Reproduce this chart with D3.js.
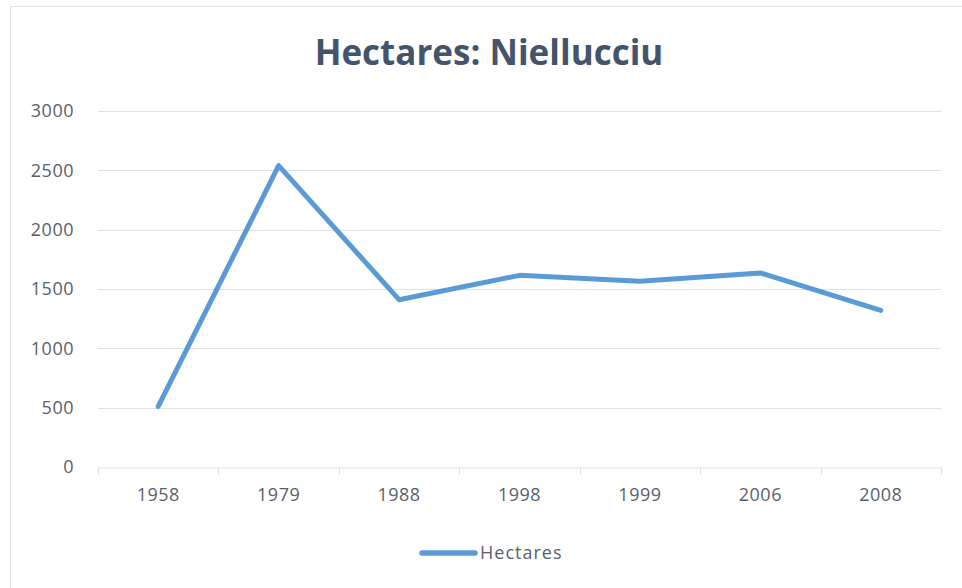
<!DOCTYPE html>
<html>
<head>
<meta charset="utf-8">
<script src="https://cdn.jsdelivr.net/npm/d3@7"></script>
<style>
  body { margin: 0; background: #fff; }
  text { font-family: "Open Sans", "Liberation Sans", sans-serif; }
</style>
</head>
<body>
<div id="chart"></div>
<script>
var years = ["1958", "1979", "1988", "1998", "1999", "2006", "2008"];
var hectares = [510, 2540, 1410, 1615, 1565, 1635, 1320];
var yTicks = [0, 500, 1000, 1500, 2000, 2500, 3000];
var seriesName = "Hectares";
var titleText = "Hectares: Niellucciu";

var width = 962, height = 588;
var margin = {top: 111, right: 21, bottom: 121, left: 98};
var textColor = "#595f6b";
var gridColor = "#dde1e7";

var svg = d3.select("#chart").append("svg")
    .attr("width", width)
    .attr("height", height);

// chart frame
svg.append("rect")
    .attr("x", 10.5).attr("y", 6.5)
    .attr("width", width).attr("height", height)
    .attr("fill", "#fff")
    .attr("stroke", gridColor);

var x = d3.scaleBand()
    .domain(years)
    .range([margin.left, width - margin.right]);

var y = d3.scaleLinear()
    .domain([0, 3000])
    .range([height - margin.bottom, margin.top]);

// gridlines
svg.append("g")
    .selectAll("line")
    .data(yTicks.filter(function(d) { return d > 0; }))
    .enter().append("line")
    .attr("x1", margin.left)
    .attr("x2", width - margin.right)
    .attr("y1", function(d) { return Math.round(y(d)) + 0.5; })
    .attr("y2", function(d) { return Math.round(y(d)) + 0.5; })
    .attr("stroke", gridColor)
    .attr("stroke-width", 1);

// y labels
svg.append("g")
    .selectAll("text")
    .data(yTicks)
    .enter().append("text")
    .attr("x", 74)
    .attr("y", function(d) { return y(d); })
    .attr("dy", "0.35em")
    .attr("text-anchor", "end")
    .attr("fill", textColor)
    .attr("font-size", "18px")
    .attr("letter-spacing", "0.5px")
    .text(function(d) { return d; });

// x axis
var xAxis = svg.append("g")
    .attr("transform", "translate(0," + (Math.round(y(0)) + 0.5) + ")")
    .call(d3.axisBottom(x).tickSize(0).tickPadding(21));
xAxis.select(".domain").attr("stroke", gridColor);
xAxis.selectAll("text")
    .attr("fill", textColor)
    .attr("font-size", "18px")
    .attr("letter-spacing", "0.5px")
    .attr("font-family", "'Open Sans', 'Liberation Sans', sans-serif");

var bounds = years.map(function(d) { return x(d); }).concat([x.range()[1]]);
xAxis.selectAll(".sep")
    .data(bounds)
    .enter().append("line")
    .attr("class", "sep")
    .attr("x1", function(d) { return Math.round(d) + 0.5; })
    .attr("x2", function(d) { return Math.round(d) + 0.5; })
    .attr("y1", 0).attr("y2", 7)
    .attr("stroke", gridColor);

// line
var line = d3.line()
    .x(function(d, i) { return x(years[i]) + x.bandwidth() / 2; })
    .y(function(d) { return y(d); });

svg.append("path")
    .datum(hectares)
    .attr("d", line)
    .attr("fill", "none")
    .attr("stroke", "#5b9bd5")
    .attr("stroke-width", 5)
    .attr("stroke-linejoin", "round")
    .attr("stroke-linecap", "round");

// title
svg.append("text")
    .attr("x", 489)
    .attr("y", 65)
    .attr("text-anchor", "middle")
    .attr("fill", "#44546a")
    .attr("font-size", "35px")
    .attr("font-weight", "bold")
    .text(titleText);

// legend
var legend = svg.append("g").attr("transform", "translate(422,553)");
legend.append("line")
    .attr("x1", 0).attr("x2", 53)
    .attr("y1", 0).attr("y2", 0)
    .attr("stroke", "#5b9bd5")
    .attr("stroke-width", 5.5)
    .attr("stroke-linecap", "round");
legend.append("text")
    .attr("x", 58)
    .attr("y", 0)
    .attr("dy", "0.35em")
    .attr("fill", textColor)
    .attr("font-size", "18px")
    .attr("letter-spacing", "1px")
    .text(seriesName);
</script>
</body>
</html>
